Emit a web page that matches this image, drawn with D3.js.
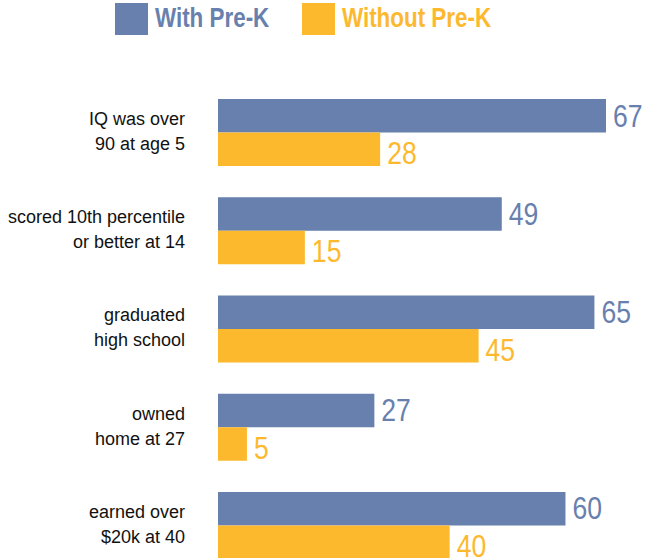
<!DOCTYPE html>
<html>
<head>
<meta charset="utf-8">
<script src="https://cdn.jsdelivr.net/npm/d3@7"></script>
<style>
  body { margin: 0; background: #fff; }
  svg text { font-family: "Liberation Sans", Arial, sans-serif; }
</style>
</head>
<body>
<div class="chart"></div>
<script>
// valores (percentuais)
const labels = [
    ["IQ was over", "90 at age 5"],
    ["scored 10th percentile", "or better at 14"],
    ["graduated", "high school"],
    ["owned", "home at 27"],
    ["earned over", "$20k at 40"]
];
const withPreK = [67, 49, 65, 27, 60];
const withoutPreK = [28, 15, 45, 5, 40];
const seriesNames = ["With Pre-K", "Without Pre-K"];
const colors = ["#6880ad", "#fdb92e"];

const width = 645;
const height = 558;
const narrow = 0.83; // fonte condensada "fake"

const svg = d3.select("div.chart")
    .append("svg")
    .attr("width", width)
    .attr("height", height);

const x = d3.scaleLinear()
    .domain([0, 67])
    .range([218, 606]);

const y = d3.scaleBand()
    .domain(d3.range(labels.length))
    .range([99, 559])
    .paddingInner(0.318)
    .paddingOuter(0);

const sub = d3.scaleBand()
    .domain([0, 1])
    .range([0, y.bandwidth()]);

// legenda
const legend = svg.append("g");
const legendX = [115, 302];
seriesNames.forEach(function(name, i) {
    legend.append("rect")
        .attr("x", legendX[i])
        .attr("y", 3)
        .attr("width", 33)
        .attr("height", 32)
        .attr("fill", colors[i]);
    legend.append("text")
        .attr("transform", "translate(" + (legendX[i] + 40) + ",27) scale(" + narrow + ",1)")
        .attr("fill", colors[i])
        .attr("font-size", 27)
        .attr("font-weight", "bold")
        .text(name);
});

const groups = svg.selectAll("g.group")
    .data(labels)
    .enter()
    .append("g")
    .attr("class", "group")
    .attr("transform", function(d, i) { return "translate(0," + y(i) + ")"; });

// rótulos das categorias
groups.append("text")
    .attr("text-anchor", "end")
    .attr("font-size", 18)
    .attr("fill", "#111")
    .selectAll("tspan")
    .data(function(d) { return d; })
    .enter()
    .append("tspan")
    .attr("x", 185)
    .attr("y", function(d, j) { return 26 + j * 25; })
    .text(function(d) { return d; });

const series = [withPreK, withoutPreK];
series.forEach(function(values, s) {
    groups.append("rect")
        .attr("x", x(0))
        .attr("y", sub(s))
        .attr("width", function(d, i) { return x(values[i]) - x(0); })
        .attr("height", sub.bandwidth())
        .attr("fill", colors[s]);

    groups.append("text")
        .attr("transform", function(d, i) {
            let ty = sub(s) + sub.bandwidth() - (s === 0 ? 6 : 2);
            return "translate(" + (x(values[i]) + 7) + "," + ty + ") scale(" + narrow + ",1)";
        })
        .attr("font-size", 32)
        .attr("fill", colors[s])
        .text(function(d, i) { return values[i]; });
});
</script>
</body>
</html>
